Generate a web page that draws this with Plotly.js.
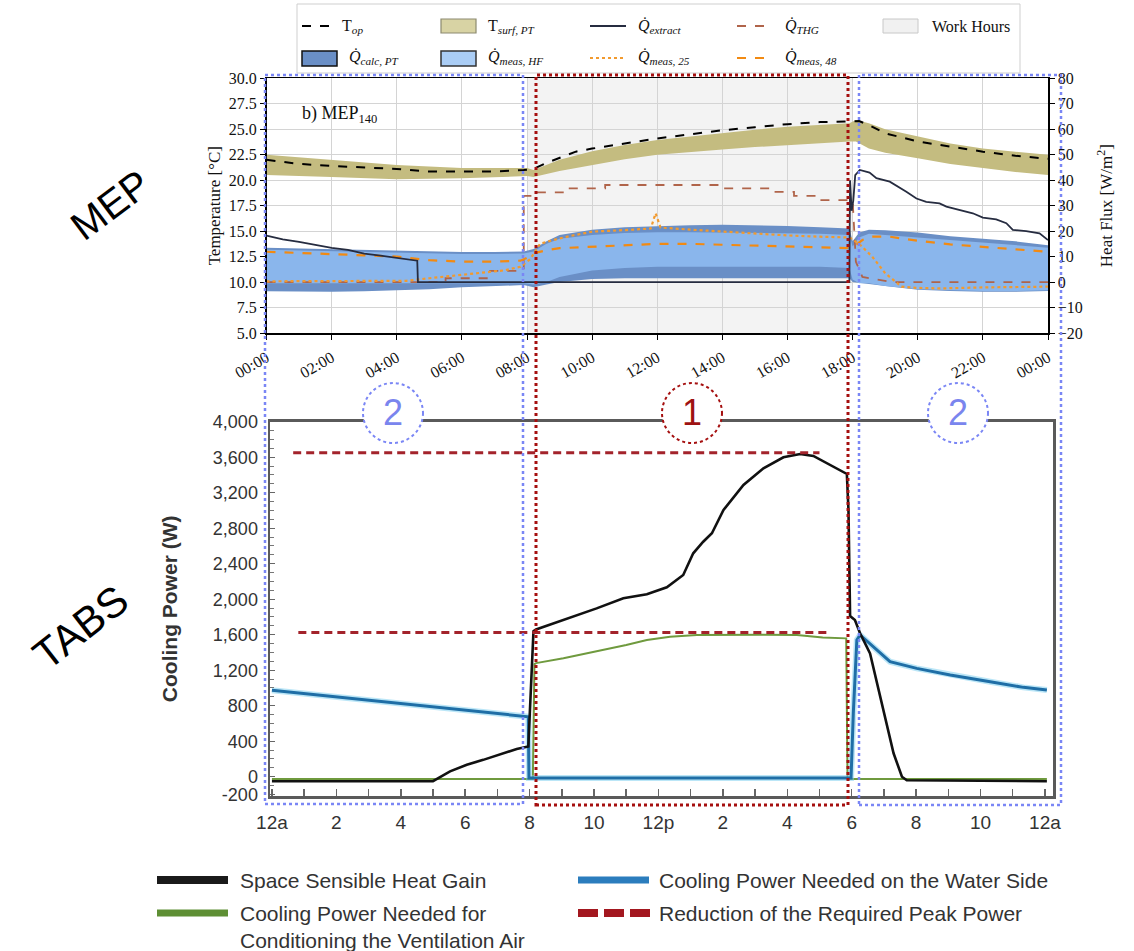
<!DOCTYPE html>
<html>
<head>
<meta charset="utf-8">
<script src="https://cdn.plot.ly/plotly-3.0.1.min.js"></script>
<style>html,body{margin:0;padding:0;background:#fff;}#chart{width:1134px;height:951px;}</style>
</head>
<body>
<div id="chart"></div>
<script>
// ---------------- DATA: top panel (MEP140) ----------------
const workHours = [8, 18];
const topTickVals = [0,2,4,6,8,10,12,14,16,18,20,22,24];
const topTickText = ['00:00','02:00','04:00','06:00','08:00','10:00','12:00','14:00','16:00','18:00','20:00','22:00','00:00'];

const tOpHours = [0,0.5,1,2,3,4,5,6,7,7.9,8.2,8.6,9,9.5,10,11,12,13,14,15,16,17,17.5,18,18.2,18.5,19,20,21,22,23,24];
const tOp      = [22.0,21.8,21.6,21.4,21.25,21.1,20.85,20.85,20.85,21.0,21.1,21.7,22.2,22.8,23.1,23.6,24.1,24.5,24.9,25.2,25.5,25.7,25.75,25.8,25.8,25.4,24.6,23.8,23.3,22.8,22.4,22.1];

const tSurfHours = [0,2,4,6,8,8.2,9,10,11,12,13,14,15,16,17,17.9,18.1,18.5,19,20,21,22,23,24];
const tSurfUpper = [22.5,22.0,21.5,21.2,21.2,21.0,22.0,22.85,23.45,23.95,24.3,24.6,24.95,25.25,25.45,25.6,25.9,25.6,25.0,24.3,23.6,23.1,22.8,22.5];
const tSurfLower = [20.5,20.3,20.1,20.2,20.4,20.3,20.9,21.5,22.05,22.5,22.75,23.0,23.25,23.45,23.65,23.8,23.8,23.1,22.7,22.15,21.6,21.2,20.8,20.5];

const bandHours = [0,1,2,3,4,5,6,7,7.9,8.2,8.6,9,10,11,12,13,14,15,16,17,17.9,18.0,18.2,18.5,19,20,21,22,23,24];
const calcUpper = [13.5,13.2,12.9,12.6,12.3,12.0,11.8,11.8,12.0,13.0,16.0,18.5,20.5,21.5,22.0,22.3,22.5,22.3,22.0,21.5,21.0,16.0,19.5,20.5,20.3,19.5,18.0,17.0,16.0,14.5];
const calcLower = [-3.6,-3.8,-3.8,-3.6,-3.3,-2.8,-2.0,-1.5,-1.2,-2.0,-1.0,0.0,1.2,1.5,1.5,1.5,1.5,1.5,1.5,1.5,1.5,0.0,-0.5,-0.8,-1.5,-3.0,-3.5,-3.8,-3.8,-3.5];
const measUpper = [12.7,12.4,12.1,11.8,11.5,11.2,11.0,11.0,11.2,12.0,15.0,17.0,18.5,19.3,19.6,19.6,19.5,19.4,19.2,19.0,18.5,14.0,17.5,19.0,18.5,17.5,16.5,15.5,14.5,13.5];
const measLower = [-0.5,-0.5,-0.5,-0.5,-0.5,-0.5,-0.5,-0.5,-0.5,-1.0,0.0,2.0,4.5,5.5,6.0,6.0,6.0,6.0,6.0,6.0,5.5,1.0,-0.5,-0.5,-1.5,-2.8,-3.2,-3.5,-3.5,-3.2];

const extractHours = [0,0.2,0.5,1,1.5,2,2.5,3,3.5,4,4.3,4.63,4.65,17.9,17.92,17.97,18.02,18.08,18.22,18.52,18.73,19.14,19.65,19.96,20.26,20.67,20.88,21.29,21.69,22.0,22.41,22.72,22.92,23.33,23.74,24];
const extractHF    = [18.2,17.6,16.8,15.8,14.6,13.4,12.6,11.2,10.4,9.4,9.0,8.4,0,0,40,28,32,42,44,43,40.8,39.4,35.5,32.8,31.5,30.9,29.6,28.3,27,25.3,24.6,23.1,20.5,20,19.1,16.5];

const thgHours = [0,5.5,5.5,6.8,6.8,7.9,7.9,8.2,8.2,9.1,9.1,10.4,10.4,14.0,14.0,15.6,15.6,16.2,16.2,17.0,17.0,18.0,18.1,18.3,19.2,24];
const thgHF    = [0,0,1.5,1.5,4.4,4.4,33.8,33.8,35.2,35.2,36.8,36.8,38.1,38.1,36.8,36.8,35.4,35.4,33.8,33.8,32.2,32.2,8,2,0,0];

const meas25Hours = [0,2,4.3,5.0,5.7,6.5,7.3,7.8,8.1,8.4,8.8,9.3,10,11,11.8,11.95,12.1,13,14,15,16,17,17.9,18.2,18.6,19.0,19.5,20.0,20.7,22,23,24];
const meas25HF    = [0.3,0.3,0.5,1.5,2.5,3.6,4.6,6,9,15,16.5,18,19.8,20.4,21,27,21.4,20.6,19.8,19.2,18.3,17.8,17.5,15,10,3.5,-1.8,-2.3,-2.5,-2.1,-2,-1.8];

const meas48Hours = [0,1,2,3,4,5,6,7,7.8,8.0,8.2,8.6,9,10,11,12,13,14,15,16,17,17.9,18.0,18.3,18.6,19.1,20,21,22,23,24];
const meas48HF    = [11.9,11.5,11.0,10.5,10.0,8.6,8.0,8.0,8.4,9.5,11.3,12.5,13.3,13.9,14.5,15.0,15.0,14.6,14.2,13.9,13.5,13.3,13.5,16.5,17.8,17.9,16.2,14.8,13.8,12.8,11.9];

// ---------------- DATA: bottom panel (TABS) ----------------
const botTickVals = [0,2,4,6,8,10,12,14,16,18,20,22,24];
const botTickText = ['12a','2','4','6','8','10','12p','2','4','6','8','10','12a'];
const powerTickVals = [-200,0,400,800,1200,1600,2000,2400,2800,3200,3600,4000];
const powerTickText = ['-200','0','400','800','1,200','1,600','2,000','2,400','2,800','3,200','3,600','4,000'];

const sshgHours = [0,5.0,5.53,6.05,6.56,7.08,7.6,7.96,8.02,8.12,8.2,9.05,10.08,10.91,11.64,12.26,12.77,13.08,13.39,13.66,14.02,14.64,15.26,15.88,16.4,16.81,17.33,17.64,17.85,17.9,17.95,18.1,18.26,18.57,18.98,19.3,19.56,19.71,24.06];
const sshgW     = [-50,-50,60,135,190,248,312,341,900,1640,1660,1766,1897,2010,2055,2134,2273,2517,2648,2743,3005,3287,3475,3599,3636,3614,3512,3448,3411,3005,1810,1766,1616,1390,752,264,0,-40,-50];

const ventHours = [0,8.1,8.15,8.2,9.05,10.08,11.0,11.64,12.36,13.19,14.02,15.26,16.3,17.1,17.83,17.87,24.06];
const ventW     = [-25,-25,1270,1280,1334,1409,1484,1540,1577,1597,1600,1600,1597,1570,1559,-25,-25];

const waterHours = [0,3.46,7.96,7.98,17.98,18.05,18.16,18.26,18.67,19.19,20.02,21.06,22.3,23.33,24.06];
const waterW     = [975,845,676,-15,-15,714,1540,1597,1465,1296,1221,1146,1070,1007,977];

const peakHighHours = [0.66, 17.0];
const peakHighW     = [3650, 3650];
const peakLowHours  = [0.82, 17.23];
const peakLowW      = [1625, 1625];

// ---------------- helpers (layout only) ----------------
const W = 1134, H = 951;
const px = x => x / W;
const py = y => 1 - y / H;
const band = (xs, up, lo) => ({x: xs.concat(xs.slice().reverse()), y: up.concat(lo.slice().reverse())});

const serif = 'Liberation Serif, Times New Roman, serif';
const sans = 'Liberation Sans, Arial, sans-serif';

const sB = band(tSurfHours, tSurfUpper, tSurfLower);
const cB = band(bandHours, calcUpper, calcLower);
const mB = band(bandHours, measUpper, measLower);

const traces = [
  {x: sB.x, y: sB.y, xaxis:'x', yaxis:'y', type:'scatter', mode:'lines', fill:'toself', fillcolor:'#c4bc80', line:{width:0}, hoverinfo:'skip'},
  {x: cB.x, y: cB.y, xaxis:'x', yaxis:'y2', type:'scatter', mode:'lines', fill:'toself', fillcolor:'#6a8fc6', line:{width:0}, hoverinfo:'skip'},
  {x: mB.x, y: mB.y, xaxis:'x', yaxis:'y2', type:'scatter', mode:'lines', fill:'toself', fillcolor:'#8ab6ec', line:{width:0}, hoverinfo:'skip'},
  {x: thgHours, y: thgHF, xaxis:'x', yaxis:'y2', type:'scatter', mode:'lines', line:{color:'#b0644a', width:1.8, dash:'dash'}},
  {x: meas25Hours, y: meas25HF, xaxis:'x', yaxis:'y2', type:'scatter', mode:'lines', line:{color:'#f29a2e', width:2.2, dash:'dot'}},
  {x: meas48Hours, y: meas48HF, xaxis:'x', yaxis:'y2', type:'scatter', mode:'lines', line:{color:'#f28a12', width:2.2, dash:'dash'}},
  {x: extractHours, y: extractHF, xaxis:'x', yaxis:'y2', type:'scatter', mode:'lines', line:{color:'#262c40', width:1.8}},
  {x: tOpHours, y: tOp, xaxis:'x', yaxis:'y', type:'scatter', mode:'lines', line:{color:'#000', width:2, dash:'dash'}},

  {x: ventHours, y: ventW, xaxis:'x2', yaxis:'y3', type:'scatter', mode:'lines', line:{color:'#6f9a3e', width:2}},
  {x: waterHours, y: waterW, xaxis:'x2', yaxis:'y3', type:'scatter', mode:'lines', line:{color:'rgba(120,205,240,0.5)', width:6}, hoverinfo:'skip'},
  {x: waterHours, y: waterW, xaxis:'x2', yaxis:'y3', type:'scatter', mode:'lines', line:{color:'#1f6ea6', width:3}},
  {x: sshgHours, y: sshgW, xaxis:'x2', yaxis:'y3', type:'scatter', mode:'lines', line:{color:'#111', width:2.6}},
  {x: peakHighHours, y: peakHighW, xaxis:'x2', yaxis:'y3', type:'scatter', mode:'lines', line:{color:'#a3232b', width:3, dash:'8px,5px'}},
  {x: peakLowHours, y: peakLowW, xaxis:'x2', yaxis:'y3', type:'scatter', mode:'lines', line:{color:'#a3232b', width:3, dash:'8px,5px'}}
];

const shapes = [
  // work hours shading
  {type:'rect', xref:'x', yref:'y domain', x0:workHours[0], x1:workHours[1], y0:0, y1:1, fillcolor:'#f3f3f3', line:{width:0}, layer:'below'},
  // top legend box
  {type:'rect', xref:'paper', yref:'paper', x0:px(297), x1:px(1020), y0:py(73), y1:py(4), fillcolor:'#fff', line:{color:'#cfcfcf', width:1}},
  {type:'line', xref:'paper', yref:'paper', x0:px(302), x1:px(335), y0:py(26), y1:py(26), line:{color:'#000', width:2, dash:'dash'}},
  {type:'rect', xref:'paper', yref:'paper', x0:px(441), x1:px(476), y0:py(33), y1:py(19), fillcolor:'#d8d3a4', line:{color:'#8c8a70', width:1.2}},
  {type:'line', xref:'paper', yref:'paper', x0:px(590), x1:px(626), y0:py(26), y1:py(26), line:{color:'#262c40', width:2}},
  {type:'line', xref:'paper', yref:'paper', x0:px(737), x1:px(773), y0:py(26), y1:py(26), line:{color:'#b0644a', width:2, dash:'dash'}},
  {type:'rect', xref:'paper', yref:'paper', x0:px(883), x1:px(918), y0:py(33), y1:py(19), fillcolor:'#f1f1f1', line:{color:'#c8c8c8', width:1}},
  {type:'rect', xref:'paper', yref:'paper', x0:px(302), x1:px(337), y0:py(66), y1:py(51), fillcolor:'#6a8fc6', line:{color:'#111', width:1.5}},
  {type:'rect', xref:'paper', yref:'paper', x0:px(441), x1:px(476), y0:py(66), y1:py(51), fillcolor:'#aacdf5', line:{color:'#333', width:1.5}},
  {type:'line', xref:'paper', yref:'paper', x0:px(590), x1:px(626), y0:py(58), y1:py(58), line:{color:'#f29a2e', width:2, dash:'dot'}},
  {type:'line', xref:'paper', yref:'paper', x0:px(737), x1:px(773), y0:py(58), y1:py(58), line:{color:'#f28a12', width:2, dash:'dash'}},
  // bottom legend glyphs
  {type:'line', xref:'paper', yref:'paper', x0:px(157), x1:px(228), y0:py(880), y1:py(880), line:{color:'#1a1a1a', width:8}},
  {type:'line', xref:'paper', yref:'paper', x0:px(578), x1:px(649), y0:py(880), y1:py(880), line:{color:'#2b7dbd', width:7}},
  {type:'line', xref:'paper', yref:'paper', x0:px(157), x1:px(228), y0:py(913), y1:py(913), line:{color:'#5e8f34', width:7}},
  {type:'line', xref:'paper', yref:'paper', x0:px(578), x1:px(650), y0:py(913), y1:py(913), line:{color:'#a3171f', width:8, dash:'20px,6px'}},
  // dotted region rectangles
  {type:'rect', xref:'paper', yref:'paper', x0:px(265), x1:px(523), y0:py(804), y1:py(75), line:{color:'#7a86f5', width:2.5, dash:'dot'}, layer:'above'},
  {type:'rect', xref:'paper', yref:'paper', x0:px(536), x1:px(848), y0:py(805), y1:py(75), line:{color:'#a50f0f', width:3, dash:'dot'}, layer:'above'},
  {type:'rect', xref:'paper', yref:'paper', x0:px(859), x1:px(1061), y0:py(805), y1:py(75), line:{color:'#7a86f5', width:2.5, dash:'dot'}, layer:'above'},
  // circles
  {type:'circle', xref:'paper', yref:'paper', x0:px(363), x1:px(423), y0:py(443), y1:py(383), fillcolor:'#fff', line:{color:'#7a86f5', width:2, dash:'dot'}, layer:'above'},
  {type:'circle', xref:'paper', yref:'paper', x0:px(662), x1:px(722), y0:py(443), y1:py(383), fillcolor:'#fff', line:{color:'#a50f0f', width:2, dash:'dot'}, layer:'above'},
  {type:'circle', xref:'paper', yref:'paper', x0:px(928), x1:px(988), y0:py(443), y1:py(383), fillcolor:'#fff', line:{color:'#7a86f5', width:2, dash:'dot'}, layer:'above'}
];

const Q = '<i>Q\u0307</i>';
function ann(x, y, text, opts) {
  return Object.assign({xref:'paper', yref:'paper', x:px(x), y:py(y), text:text, showarrow:false, xanchor:'left', yanchor:'middle'}, opts || {});
}
const legFont = {family: serif, size: 16, color:'#111'};
const botFont = {family: sans, size: 21, color:'#333'};
const annotations = [
  ann(340, 26, 'T<sub><i>op</i></sub>', {font: legFont}),
  ann(486, 26, 'T<sub><i>surf, PT</i></sub>', {font: legFont}),
  ann(636, 26, Q + '<sub><i>extract</i></sub>', {font: legFont}),
  ann(783, 26, Q + '<sub><i>THG</i></sub>', {font: legFont}),
  ann(930, 26, 'Work Hours', {font: legFont}),
  ann(347, 58, Q + '<sub><i>calc, PT</i></sub>', {font: legFont}),
  ann(486, 58, Q + '<sub><i>meas, HF</i></sub>', {font: legFont}),
  ann(636, 58, Q + '<sub><i>meas, 25</i></sub>', {font: legFont}),
  ann(783, 58, Q + '<sub><i>meas, 48</i></sub>', {font: legFont}),
  ann(300, 114, 'b) MEP<sub>140</sub>', {font:{family: serif, size: 18, color:'#111'}}),
  ann(110, 205, 'MEP', {xanchor:'center', textangle:-37, font:{family: sans, size: 40, color:'#000'}}),
  ann(80, 627, 'TABS', {xanchor:'center', textangle:-38, font:{family: sans, size: 42, color:'#000'}}),
  ann(393, 413, '2', {xanchor:'center', font:{family: sans, size: 36, color:'#7a85ee'}}),
  ann(692, 413, '1', {xanchor:'center', font:{family: sans, size: 36, color:'#9e1212'}}),
  ann(958, 413, '2', {xanchor:'center', font:{family: sans, size: 36, color:'#7a85ee'}}),
  ann(238, 880, 'Space Sensible Heat Gain', {font: botFont}),
  ann(657, 880, 'Cooling Power Needed on the Water Side', {font: botFont}),
  ann(238, 913, 'Cooling Power Needed for', {font: botFont}),
  ann(238, 940, 'Conditioning the Ventilation Air', {font: botFont}),
  ann(657, 913, 'Reduction of the Required Peak Power', {font: botFont})
];

const layout = {
  width: W, height: H,
  margin: {l:0, r:0, t:0, b:0},
  paper_bgcolor:'#fff', plot_bgcolor:'#fff',
  showlegend: false,
  xaxis: {
    domain:[px(266.5), px(1048)], range:[0,24], anchor:'y',
    tickmode:'array', tickvals: topTickVals, ticktext: topTickText, tickangle:-30,
    ticks:'outside', ticklen:5, tickcolor:'#000',
    showline:true, linecolor:'#000', linewidth:1.5, mirror:true,
    showgrid:true, gridcolor:'#d4d4d4', gridwidth:1, zeroline:false,
    ticklabelstandoff:3,
    tickfont:{family: serif, size:16, color:'#111'}
  },
  yaxis: {
    domain:[py(333), py(78.3)], range:[5,30], anchor:'x',
    tickmode:'linear', tick0:5, dtick:2.5, tickformat:'.1f',
    ticks:'outside', ticklen:5, tickcolor:'#000',
    showline:true, linecolor:'#000', linewidth:1.5, mirror:true,
    showgrid:true, gridcolor:'#d4d4d4', gridwidth:1, zeroline:false,
    tickfont:{family: serif, size:16, color:'#111'},
    title:{text:'Temperature [°C]', font:{family: serif, size:17, color:'#111'}, standoff:4}
  },
  yaxis2: {
    overlaying:'y', side:'right', anchor:'x', range:[-20,80],
    tickmode:'linear', tick0:-20, dtick:10,
    ticks:'outside', ticklen:5, tickcolor:'#000',
    showline:true, linecolor:'#000', linewidth:1.5,
    showgrid:false, zeroline:false,
    tickfont:{family: serif, size:16, color:'#111'},
    title:{text:'Heat Flux [W/m<sup>2</sup>]', font:{family: serif, size:17, color:'#111'}, standoff:18}
  },
  xaxis2: {
    domain:[px(270), px(1053)], range:[-0.06,24.25], anchor:'y3',
    tickmode:'array', tickvals: botTickVals, ticktext: botTickText,
    ticks:'inside', ticklen:7, tickcolor:'#666', tickwidth:1.5,
    minor:{tickmode:'linear', tick0:0, dtick:1, ticks:'inside', ticklen:7, tickcolor:'#666', tickwidth:1.5},
    showline:true, linecolor:'#5a5a5a', linewidth:2.5, mirror:true,
    showgrid:false, zeroline:false, ticklabelstandoff:8,
    tickfont:{family: sans, size:19, color:'#333'}
  },
  yaxis3: {
    domain:[py(796), py(421.7)], range:[-217,4000], anchor:'x2',
    tickmode:'array', tickvals: powerTickVals, ticktext: powerTickText,
    ticks:'inside', ticklen:5, tickcolor:'#666',
    minor:{tickmode:'linear', tick0:0, dtick:100, ticks:'inside', ticklen:4, tickcolor:'#777'},
    showline:true, linecolor:'#5a5a5a', linewidth:2.5, mirror:true,
    showgrid:false, zeroline:false, ticklabelstandoff:6,
    tickfont:{family: sans, size:18, color:'#333'},
    title:{text:'<b>Cooling Power (W)</b>', font:{family: sans, size:21, color:'#333'}, standoff:30}
  },
  shapes: shapes,
  annotations: annotations
};

Plotly.newPlot('chart', traces, layout, {displayModeBar:false, staticPlot:true});
</script>
</body>
</html>
